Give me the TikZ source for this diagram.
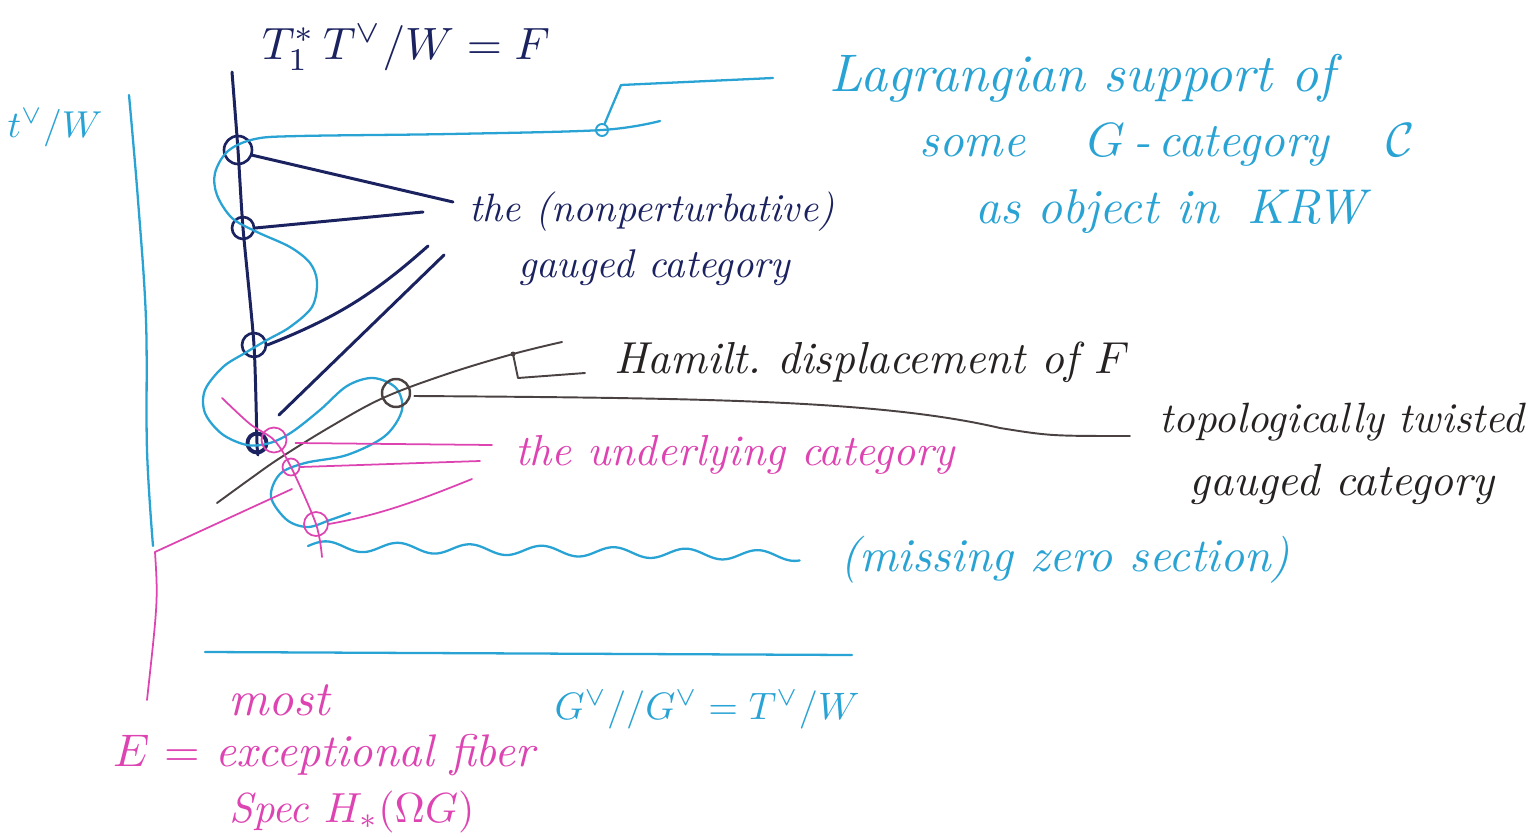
\documentclass[tikz,border=0pt]{standalone}
\usepackage{graphicx}
\usepackage{amsmath}
\definecolor{cyanpen}{HTML}{29A3D4}
\definecolor{navypen}{HTML}{1B2260}
\definecolor{magpen}{HTML}{DD44B2}
\definecolor{greypen}{HTML}{4A4242}
\definecolor{blackpen}{HTML}{262222}
\newcommand{\fitw}[2]{\resizebox{#1cm}{!}{#2}}
\begin{document}
\begin{tikzpicture}[x=0.02cm,y=-0.02cm,line cap=round,line join=round,
  navyl/.style={draw=navypen,line width=1.7pt},
  cyanl/.style={draw=cyanpen,line width=1.3pt},
  magl/.style={draw=magpen,line width=1.0pt},
  greyl/.style={draw=greypen,line width=1.1pt},
  ring/.style={circle,inner sep=0pt,minimum size=#1},
  lab/.style={inner sep=0pt,anchor=center}]
\useasboundingbox (0,0) rectangle (1528,838);

% ---------- left cyan axis and magenta fibre ----------
\coordinate (axtop) at (129,95);
\coordinate (axbot) at (153,546);
\coordinate (mcorner) at (155,552);
\coordinate (mbot) at (147,700);
\draw[cyanl] plot[smooth,tension=0.6] coordinates {(axtop) (138,200) (146,320) (147,450) (axbot)};
\draw[magl] (mcorner) .. controls (158,600) .. (mbot);

% ---------- main navy fibre F ----------
\coordinate (vtop) at (232,72);
\coordinate (vbot) at (258,455);
\node[ring=0.56cm,draw=navypen,line width=1.5pt] (c1) at (238,150) {};
\node[ring=0.44cm,draw=navypen,line width=1.5pt] (c2) at (243,228) {};
\node[ring=0.48cm,draw=navypen,line width=1.5pt] (c3) at (254,345) {};
\node[ring=0.38cm,draw=navypen,line width=2.2pt] (c4) at (257,443) {};
\draw[navyl] plot[smooth,tension=0.4] coordinates {(vtop) (c1.center) (c2.center) (c3.center) (c4.center) (vbot)};

% ---------- cyan Lagrangian ----------
\coordinate (lagend) at (660,121);
\coordinate (lagtail) at (350,513);
\draw[cyanl] plot[smooth,tension=0.55] coordinates {
 (lagend) (602,130) (450,134) (300,136) (255,139) (228,151) (215,173) (217,195) (232,218) (257,232)
 (290,247) (310,263) (317,282) (312,307) (290,327) (267,340) (245,353) (223,367) (205,390)
 (205,413) (222,434) (247,445) (270,443) (292,432) (320,410) (347,386) (373,378) (396,388)
 (402,410) (385,436) (347,455) (305,463) (280,474) (271,497) (287,520) (308,527) (330,520) (lagtail)};
\node[ring=0.24cm,draw=cyanpen,line width=1.1pt] (lagdot) at (602,130) {};
\coordinate (lagk) at (621,85);
\coordinate (lagr) at (773,78);
\draw[cyanl] (lagdot) -- (lagk) -- (lagr);

% ---------- wavy missing zero section ----------
\draw[cyanl] plot[domain=0:1,samples=240,smooth] ({308+492*\x},{546+10*\x-5*sin(2460*\x)});

% ---------- bottom cyan base ----------
\coordinate (b1) at (205,652);
\coordinate (b2) at (852,655);
\draw[cyanl] (b1) -- (b2);

% ---------- grey topologically twisted curve ----------
\coordinate (gstart) at (217,503);
\coordinate (gend) at (562,342);
\coordinate (gbr) at (513,354);
\draw[greyl] plot[smooth,tension=0.6] coordinates {(gstart) (250,479) (280,458) (330,427) (383,398) (447,374) (gbr) (gend)};
\fill[greypen] (gbr) circle (2.5);
\coordinate (gbrk) at (518,378);
\coordinate (gbrr) at (585,373);
\draw[greyl] (gbr) -- (gbrk) -- (gbrr);
\node[ring=0.56cm,draw=greypen,line width=1.4pt] (g1) at (396,393) {};
\coordinate (tw) at (1130,436);
\draw[greyl] (g1.east) ++(3,3) .. controls (700,398) and (880,400) .. (1000,428) .. controls (1050,436) .. (tw);

% ---------- magenta underlying category ----------
\node[ring=0.50cm,draw=magpen,line width=1.0pt] (m1) at (274,440) {};
\node[ring=0.34cm,draw=magpen,line width=1.0pt] (m2) at (291,467) {};
\node[ring=0.48cm,draw=magpen,line width=1.0pt] (m3) at (316,524) {};
\coordinate (mtop) at (222,398);
\coordinate (mend) at (322,557);
\draw[magl] plot[smooth,tension=0.5] coordinates {(mtop) (250,424) (m1.center) (m2.center) (m3.center) (mend)};
\coordinate (u1) at (492,445);
\coordinate (u2) at (480,461);
\coordinate (u3) at (472,479);
\coordinate (u4) at (292,489);
\draw[magl] (m1.east) ++(8,3) -- (u1);
\draw[magl] (m2.east) -- (u2);
\draw[magl] (m3.east) .. controls (380,515) and (420,500) .. (u3);
\draw[magl] (mcorner) -- (u4);

% ---------- navy connectors to gauged category ----------
\coordinate (n1) at (453,202);
\coordinate (n2) at (423,212);
\coordinate (n3) at (428,246);
\coordinate (n4a) at (279,415);
\coordinate (n4b) at (444,255);
\draw[navyl] (c1.-20) -- (n1);
\draw[navyl] (c2.east) -- (n2);
\draw[navyl] (c3.east) to[bend right=10] (n3);
\draw[navyl] (n4a) -- (n4b);

% ---------- labels ----------
\node[lab,text=navypen] (tF) at (406,48) {\fitw{5.76}{$T^{*}_{1}\,T^{\vee}/W = F$}};
\node[lab,text=cyanpen] (tW) at (55,128) {\fitw{1.9}{$t^{\vee}/W$}};
\node[lab,text=cyanpen] (lag1) at (1082,78) {\fitw{10.1}{\itshape Lagrangian support of}};
\node[lab,text=cyanpen] (lag2) at (1167,145) {\fitw{9.9}{\itshape some\hspace{1.3em}$G$\,-\,category\hspace{1.2em}$\mathcal{C}$}};
\node[lab,text=cyanpen] (lag3) at (1170,212) {\fitw{7.8}{\itshape as object in\hspace{0.6em}KRW}};
\node[lab,text=navypen] (gc1) at (652,212) {\fitw{7.3}{\itshape the (nonperturbative)}};
\node[lab,text=navypen] (gc2) at (654,268) {\fitw{5.44}{\itshape gauged category}};
\node[lab,text=blackpen] (ham) at (872,362) {\fitw{10.3}{\itshape Hamilt.\ displacement of $F$}};
\node[lab,text=blackpen] (tt1) at (1342,422) {\fitw{7.3}{\itshape topologically twisted}};
\node[lab,text=blackpen] (tt2) at (1342,485) {\fitw{6.1}{\itshape gauged category}};
\node[lab,text=magpen] (und) at (735,455) {\fitw{8.8}{\itshape the underlying category}};
\node[lab,text=cyanpen] (miss) at (1065,560) {\fitw{9.0}{\itshape (missing zero section)}};
\node[lab,text=cyanpen] (gg) at (707,710) {\fitw{6.1}{$G^{\vee}{/}{/}G^{\vee} = T^{\vee}/W$}};
\node[lab,text=magpen] (most) at (279,700) {\fitw{2.04}{\itshape most}};
\node[lab,text=magpen] (exc) at (324,755) {\fitw{8.44}{$E$ = \itshape exceptional fiber}};
\node[lab,text=magpen] (spec) at (352,812) {\fitw{4.9}{\itshape Spec $H_{*}(\Omega G)$}};
\end{tikzpicture}
\end{document}
